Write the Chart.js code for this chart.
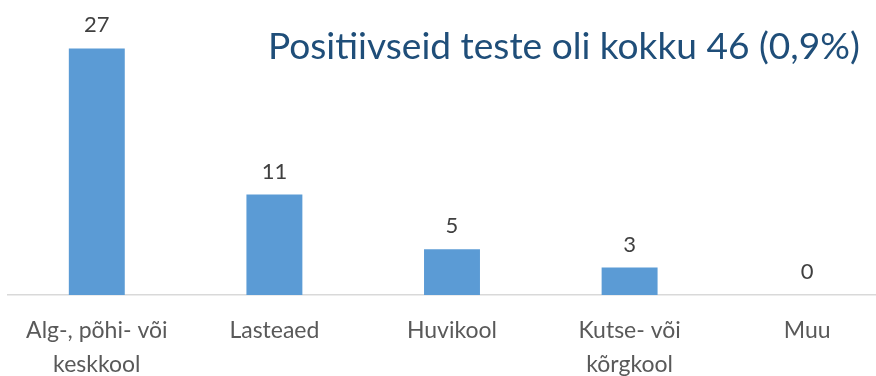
<!DOCTYPE html>
<html>
<head>
<meta charset="utf-8">
<script src="https://cdn.jsdelivr.net/npm/chart.js@4"></script>
<style>
  html, body { margin: 0; padding: 0; background: #fff; }
  #wrap { width: 876px; height: 376px; overflow: hidden; position: relative; }
  #chart { position: absolute; left: 0; top: 0; }
</style>
</head>
<body>
<div id="wrap">
  <canvas id="chart" width="896" height="400"></canvas>
</div>
<script>
// Andmed
var categories = [
    ['Alg-, põhi- või', 'keskkool'],
    'Lasteaed',
    'Huvikool',
    ['Kutse- või', 'kõrgkool'],
    'Muu'
];
var positiveCounts = [27, 11, 5, 3, 0];
var titleText = 'Positiivseid teste oli kokku 46 (0,9%)';

var FONT = 'Lato, "Open Sans", sans-serif';

// Väärtused tulpade kohale
var valueLabels = {
    id: 'valueLabels',
    afterDatasetsDraw: function(chart) {
        var ctx = chart.ctx;
        var meta = chart.getDatasetMeta(0);
        ctx.save();
        ctx.font = '22px ' + FONT;
        ctx.fillStyle = '#404040';
        ctx.textAlign = 'center';
        ctx.textBaseline = 'alphabetic';
        meta.data.forEach(function(bar, i) {
            ctx.fillText(String(positiveCounts[i]), bar.x, bar.y - 16);
        });
        ctx.restore();
    }
};

// Pealkiri paremal üleval, graafiku sees
var cornerTitle = {
    id: 'cornerTitle',
    afterDraw: function(chart) {
        var ctx = chart.ctx;
        ctx.save();
        var size = 36;
        ctx.font = size + 'px ' + FONT;
        var w = ctx.measureText(titleText).width;
        size = size * 592 / w;
        ctx.font = size.toFixed(2) + 'px ' + FONT;
        ctx.fillStyle = '#1F4E79';
        ctx.textAlign = 'left';
        ctx.textBaseline = 'alphabetic';
        ctx.fillText(titleText, 268, 59);
        ctx.restore();
    }
};

var ctx = document.getElementById('chart').getContext('2d');
var chart = new Chart(ctx, {
    type: 'bar',
    data: {
        labels: categories,
        datasets: [{
            data: positiveCounts,
            backgroundColor: '#5B9BD5',
            borderWidth: 0,
            barPercentage: 0.315,
            categoryPercentage: 1
        }]
    },
    options: {
        responsive: false,
        animation: false,
        layout: { padding: { left: 8, right: 0, top: 21, bottom: 0 } },
        plugins: {
            legend: { display: false },
            tooltip: { enabled: false }
        },
        scales: {
            x: {
                grid: { display: false, drawTicks: false },
                border: { display: true, color: '#D9D9D9', width: 1.5 },
                ticks: {
                    color: '#595959',
                    padding: 18.5,
                    maxRotation: 0,
                    autoSkip: false,
                    font: { family: FONT, size: 23, lineHeight: '34px' }
                }
            },
            y: {
                display: false,
                min: 0,
                max: 30
            }
        }
    },
    plugins: [valueLabels, cornerTitle]
});
</script>
</body>
</html>
